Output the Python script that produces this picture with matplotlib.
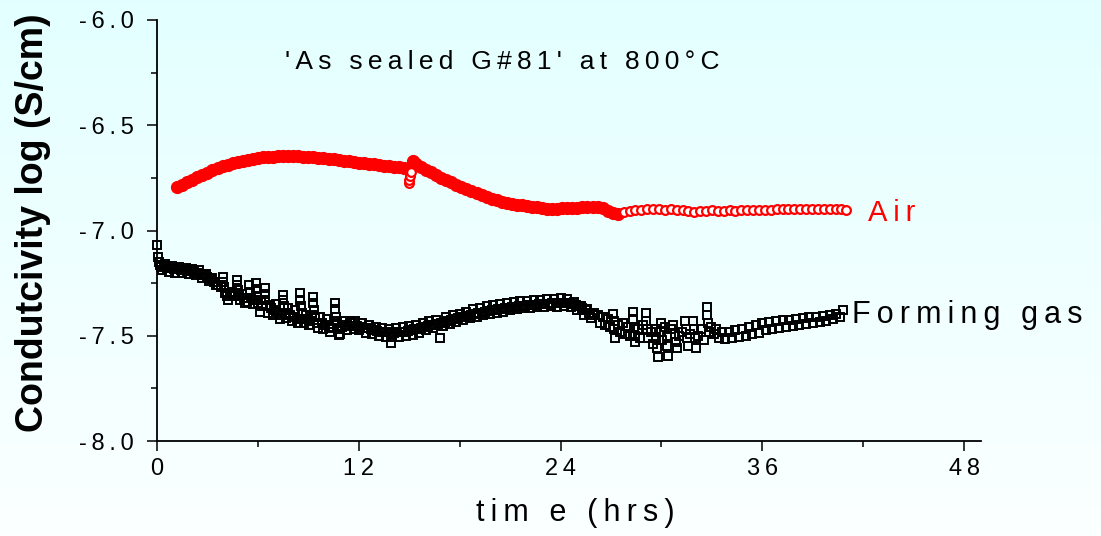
import numpy as np
import matplotlib
matplotlib.use('Agg')
import matplotlib.pyplot as plt
from matplotlib.ticker import MultipleLocator, FuncFormatter

plt.rcParams['font.family'] = ['Liberation Sans', 'DejaVu Sans']

# Air: time (hrs) and log conductivity
air_time = [
    1.2, 1.5, 1.8, 2.1, 2.4, 2.7, 3.0, 3.3, 3.6, 3.9, 4.2, 4.5, 4.8, 5.1, 5.4,
    5.7, 6.0, 6.3, 6.6, 6.9, 7.2, 7.5, 7.8, 8.1, 8.4, 8.7, 9.0, 9.3, 9.6, 9.9,
    10.2, 10.5, 10.8, 11.1, 11.4, 11.7, 12.0, 12.3, 12.6, 12.9, 13.2, 13.5,
    13.8, 14.1, 14.4, 14.7, 14.95, 15.0, 15.0, 15.05, 15.1, 15.2, 15.4, 15.7,
    16.0, 16.3, 16.6, 16.9, 17.2, 17.5, 17.8, 18.1, 18.4, 18.7, 19.0, 19.3,
    19.6, 19.9, 20.2, 20.5, 20.8, 21.1, 21.4, 21.7, 22.0, 22.3, 22.6, 22.9,
    23.2, 23.5, 23.8, 24.1, 24.4, 24.7, 25.0, 25.3, 25.6, 25.9, 26.2, 26.5,
    26.8, 27.1, 27.4,
    27.75, 28.1, 28.45, 28.8, 29.15, 29.5, 29.85, 30.2, 30.55, 30.9, 31.25,
    31.6, 31.95, 32.3, 32.65, 33.0, 33.35, 33.7, 34.05, 34.4, 34.75, 35.1,
    35.45, 35.8, 36.15, 36.5, 36.85, 37.2, 37.55, 37.9, 38.25, 38.6, 38.95,
    39.3, 39.65, 40.0, 40.35, 40.7, 40.95,
]
air_log = [
    -6.795, -6.782, -6.770, -6.758, -6.746, -6.735, -6.726, -6.714, -6.704,
    -6.695, -6.687, -6.680, -6.674, -6.668, -6.663, -6.659, -6.656, -6.653,
    -6.651, -6.649, -6.647, -6.646, -6.646, -6.647, -6.648, -6.649, -6.651,
    -6.653, -6.655, -6.657, -6.660, -6.662, -6.665, -6.668, -6.671, -6.675,
    -6.678, -6.681, -6.683, -6.686, -6.689, -6.692, -6.695, -6.697, -6.700,
    -6.704, -6.708, -6.775, -6.760, -6.740, -6.720, -6.672, -6.683, -6.697,
    -6.711, -6.724, -6.737, -6.749, -6.760, -6.771, -6.782, -6.793, -6.803,
    -6.813, -6.822, -6.831, -6.840, -6.848, -6.857, -6.864, -6.869, -6.873,
    -6.877, -6.880, -6.884, -6.887, -6.890, -6.895, -6.898, -6.900, -6.899,
    -6.895, -6.893, -6.892, -6.891, -6.890, -6.889, -6.887, -6.886, -6.893,
    -6.905, -6.915, -6.920,
    -6.910, -6.905, -6.902, -6.901, -6.900, -6.900, -6.899, -6.901, -6.900,
    -6.902, -6.904, -6.908, -6.910, -6.908, -6.905, -6.904, -6.906, -6.905,
    -6.904, -6.905, -6.904, -6.903, -6.902, -6.903, -6.902, -6.901, -6.900,
    -6.898, -6.897, -6.899, -6.896, -6.897, -6.898, -6.896, -6.897, -6.898,
    -6.899, -6.900, -6.903,
]

# Forming gas: time (hrs) and log conductivity
gas_time = [
    0.0, 0.05, 0.1, 0.15, 0.25, 0.4, 0.6, 0.8, 1.0, 1.2, 1.4, 1.6, 1.8, 2.0,
    2.2, 2.4, 2.6, 2.8, 3.0, 3.2, 3.4, 3.6,
    3.8, 3.95, 3.95, 4.0, 4.05, 4.15, 4.35, 4.55, 4.75, 4.75, 4.8, 4.85, 4.95,
    5.15, 5.35, 5.5, 5.55, 5.6, 5.7, 5.9, 5.9, 5.95, 6.0, 6.1, 6.25, 6.4, 6.4,
    6.45, 6.5, 6.6, 6.8, 7.0, 7.2, 7.35, 7.5, 7.5, 7.55, 7.6, 7.7, 7.9, 8.1,
    8.3, 8.5, 8.5, 8.55, 8.6, 8.65, 8.75, 8.95, 9.1, 9.3, 9.3, 9.35, 9.4, 9.5,
    9.6, 9.8, 10.0, 10.2, 10.4, 10.6, 10.6, 10.65, 10.7, 10.75, 10.8, 11.0,
    11.2, 11.4, 11.6,
    11.8, 12.0, 12.2, 12.4, 12.6, 12.8, 13.0, 13.2, 13.4, 13.6, 13.8, 13.9,
    14.0, 14.2, 14.4, 14.6, 14.8, 15.0, 15.2, 15.4, 15.6, 15.8, 16.0, 16.2,
    16.4, 16.6, 16.8, 17.0, 17.2, 17.4, 17.6, 17.8, 18.0, 18.2, 18.4, 18.6,
    18.8, 19.0, 19.2, 19.4, 19.6, 19.8, 20.0, 20.2, 20.4, 20.6, 20.8, 21.0,
    21.2, 21.4, 21.6, 21.8, 22.0, 22.2, 22.4, 22.6, 22.8, 23.0, 23.2, 23.4,
    23.6, 23.8, 24.0, 24.2, 24.4, 24.6, 24.8, 25.0, 25.2, 25.4, 25.6, 25.8,
    26.0,
    26.2, 26.35, 26.5, 26.65, 26.8, 26.95, 27.1, 27.15, 27.2, 27.25, 27.4,
    27.55, 27.7, 27.85, 28.0, 28.15, 28.3, 28.3, 28.35, 28.4, 28.45, 28.6,
    28.75, 28.9, 29.05, 29.1, 29.15, 29.2, 29.35, 29.5, 29.7, 29.7, 29.75,
    29.8, 29.95, 30.0, 30.05, 30.2, 30.3, 30.35, 30.4, 30.55, 30.7, 30.8,
    30.85, 30.9, 31.05, 31.2, 31.4, 31.45, 31.5, 31.55, 31.7, 31.9, 31.95,
    32.0, 32.05, 32.2, 32.35, 32.5, 32.7, 32.7, 32.75, 32.8, 32.95, 33.1,
    33.25,
    33.4, 33.6, 33.8, 34.0, 34.2, 34.4, 34.6, 34.8, 35.0, 35.2, 35.4, 35.6,
    35.8, 36.0, 36.2, 36.4, 36.6, 36.8, 37.0, 37.2, 37.4, 37.6, 37.8, 38.0,
    38.2, 38.4, 38.6, 38.8, 39.0, 39.2, 39.4, 39.6, 39.8, 40.0, 40.2, 40.4,
    40.6, 40.8,
]
gas_log = [
    -7.069, -7.125, -7.148, -7.165, -7.175, -7.170, -7.180, -7.178, -7.185,
    -7.182, -7.188, -7.186, -7.192, -7.190, -7.196, -7.200, -7.205, -7.212,
    -7.220, -7.232, -7.245, -7.258,
    -7.27, -7.219, -7.245, -7.270, -7.295, -7.31, -7.30, -7.31, -7.235, -7.26,
    -7.285, -7.31, -7.33, -7.32, -7.34, -7.26, -7.29, -7.32, -7.35, -7.25,
    -7.28, -7.31, -7.345, -7.385, -7.36, -7.272, -7.30, -7.33, -7.36, -7.39,
    -7.37, -7.38, -7.39, -7.40, -7.306, -7.33, -7.36, -7.39, -7.416, -7.40,
    -7.41, -7.42, -7.297, -7.33, -7.36, -7.39, -7.42, -7.44, -7.42, -7.43,
    -7.314, -7.345, -7.38, -7.41, -7.44, -7.463, -7.44, -7.45, -7.46, -7.465,
    -7.345, -7.375, -7.41, -7.44, -7.47, -7.496, -7.46, -7.45, -7.455, -7.44,
    -7.43, -7.475, -7.44, -7.485, -7.45, -7.49, -7.46, -7.50, -7.465, -7.505,
    -7.47, -7.535, -7.505, -7.465, -7.505, -7.46, -7.50, -7.455, -7.495,
    -7.45, -7.485, -7.44, -7.475, -7.43, -7.465, -7.425, -7.51, -7.455, -7.41,
    -7.445, -7.40, -7.435, -7.395, -7.425, -7.385, -7.415, -7.375, -7.41,
    -7.37, -7.40, -7.36, -7.395, -7.355, -7.39, -7.35, -7.385, -7.345, -7.38,
    -7.34, -7.375, -7.335, -7.37, -7.335, -7.37, -7.33, -7.365, -7.33, -7.365,
    -7.325, -7.36, -7.325, -7.365, -7.32, -7.36, -7.325, -7.365, -7.34, -7.38,
    -7.36, -7.40, -7.375, -7.415, -7.39,
    -7.40, -7.44, -7.41, -7.45, -7.42, -7.46, -7.395, -7.43, -7.47, -7.51,
    -7.45, -7.48, -7.44, -7.49, -7.46, -7.50, -7.385, -7.42, -7.46, -7.50,
    -7.53, -7.47, -7.51, -7.45, -7.39, -7.43, -7.47, -7.51, -7.48, -7.54,
    -7.47, -7.51, -7.56, -7.60, -7.44, -7.48, -7.52, -7.46, -7.50, -7.55,
    -7.595, -7.47, -7.45, -7.49, -7.53, -7.56, -7.50, -7.48, -7.43, -7.47,
    -7.51, -7.55, -7.49, -7.43, -7.47, -7.51, -7.56, -7.50, -7.47, -7.52,
    -7.362, -7.40, -7.44, -7.48, -7.46, -7.49, -7.47,
    -7.51, -7.48, -7.515, -7.48, -7.51, -7.475, -7.505, -7.47, -7.50, -7.46,
    -7.49, -7.45, -7.485, -7.44, -7.475, -7.435, -7.47, -7.43, -7.465, -7.425,
    -7.46, -7.425, -7.455, -7.42, -7.45, -7.415, -7.445, -7.41, -7.44, -7.41,
    -7.435, -7.405, -7.43, -7.40, -7.42, -7.395, -7.41, -7.38,
]

# Forming gas: in-between readings of the densely sampled stretches
gas_time_mid = [
    0.3, 0.5, 0.7, 0.9, 1.1, 1.3, 1.5, 1.7, 1.9, 2.1, 2.3, 2.5, 2.7, 2.9, 3.1,
    3.3, 3.5,
    4.25, 4.45, 5.05, 5.25, 5.8, 6.2, 6.7, 6.9, 7.1, 7.3, 7.8, 8.0, 8.2, 8.4,
    8.85, 9.05, 9.2, 9.7, 9.9, 10.1, 10.3, 10.5, 10.9, 11.1, 11.3, 11.5, 11.7,
    11.9, 12.1, 12.3, 12.5, 12.7, 12.9, 13.1, 13.3, 13.5, 13.7, 13.9, 14.1,
    14.3, 14.5, 14.7, 14.9, 15.1, 15.3, 15.5, 15.7, 15.9, 16.1, 16.3, 16.5,
    16.7, 16.9, 17.1, 17.3, 17.5, 17.7, 17.9, 18.1, 18.3, 18.5, 18.7, 18.9,
    19.1, 19.3, 19.5, 19.7, 19.9, 20.1, 20.3, 20.5, 20.7, 20.9, 21.1, 21.3,
    21.5, 21.7, 21.9, 22.1, 22.3, 22.5, 22.7, 22.9, 23.1, 23.3, 23.5, 23.7,
    23.9, 24.1, 24.3, 24.5, 24.7, 24.9, 25.1, 25.3, 25.5, 25.7, 25.9,
]
gas_log_mid = [
    -7.19, -7.16, -7.195, -7.17, -7.20, -7.175, -7.20, -7.18, -7.205, -7.185,
    -7.21, -7.19, -7.225, -7.205, -7.24, -7.225, -7.26,
    -7.33, -7.29, -7.30, -7.345, -7.33, -7.33, -7.355, -7.40, -7.35, -7.42,
    -7.37, -7.43, -7.38, -7.44, -7.40, -7.45, -7.40, -7.41, -7.47, -7.42,
    -7.48, -7.43, -7.49, -7.43, -7.475, -7.43, -7.47,
    -7.452, -7.457, -7.461, -7.465, -7.469, -7.473, -7.477, -7.480, -7.483,
    -7.484, -7.485, -7.485, -7.484, -7.483, -7.480, -7.477, -7.474, -7.470,
    -7.468, -7.462, -7.460, -7.456, -7.451, -7.447, -7.443, -7.438, -7.434,
    -7.430, -7.426, -7.422, -7.417, -7.413, -7.409, -7.405, -7.401, -7.398,
    -7.394, -7.391, -7.387, -7.384, -7.380, -7.377, -7.375, -7.372, -7.369,
    -7.367, -7.365, -7.363, -7.361, -7.359, -7.357, -7.355, -7.354, -7.352,
    -7.351, -7.350, -7.348, -7.347, -7.346, -7.345, -7.344, -7.344, -7.344,
    -7.345, -7.350, -7.353, -7.360, -7.370, -7.380, -7.392, -7.403,
]

x_ticks = [0, 12, 24, 36, 48]
y_ticks = [-8.0, -7.5, -7.0, -6.5, -6.0]


def spaced(s, gap='\u2009'):
    # Origin-style wide letter spacing
    return gap.join(s)


fig = plt.figure(figsize=(11.01, 5.36), dpi=100)

# light cyan gradient background
bg = fig.add_axes([0, 0, 1, 1], zorder=-10)
grad = np.linspace(0, 1, 256).reshape(-1, 1)
top = np.array([0.89, 1.0, 1.0])
bottom = np.array([0.985, 1.0, 1.0])
bg.imshow(top + grad[..., None] * (bottom - top), aspect='auto', extent=[0, 1, 0, 1])
bg.axis('off')

ax = fig.add_axes([157 / 1101, 1 - 441 / 536, 824 / 1101, 421 / 536])
ax.patch.set_alpha(0)

t_air = np.array(air_time)
v_air = np.array(air_log)
# points packed so tightly in the original that they merge into a solid band
sparse = (t_air > 27.5) | ((t_air >= 15.0) & (t_air <= 15.1))

t_gas = np.concatenate([gas_time, gas_time_mid])
v_gas = np.concatenate([gas_log, gas_log_mid])
order = np.argsort(t_gas, kind='stable')

ax.plot(t_gas[order], v_gas[order], ls='none', marker='s', ms=6.2,
        mfc='none', mec='black', mew=1.4, clip_on=False)
ax.plot(t_air[~sparse], v_air[~sparse], ls='none', marker='o', ms=8.5,
        mfc='#ff0000', mec='#ff0000', mew=1.0, clip_on=False)
ax.plot(t_air[sparse], v_air[sparse], ls='none', marker='o', ms=6.3,
        mfc='white', mec='#ff0000', mew=1.6, clip_on=False)

ax.set_xlim(0, 49)
ax.set_ylim(-8.0, -6.0)

for side in ['top', 'right']:
    ax.spines[side].set_visible(False)
for side in ['left', 'bottom']:
    ax.spines[side].set_linewidth(1.3)

ax.set_xticks(x_ticks)
ax.set_yticks(y_ticks)
ax.xaxis.set_minor_locator(MultipleLocator(6))
ax.yaxis.set_minor_locator(MultipleLocator(0.25))
ax.tick_params(which='major', direction='out', length=7.5, width=1.1, labelsize=17)
ax.tick_params(which='minor', direction='out', length=4, width=1.1)
ax.tick_params(axis='y', pad=9)
ax.tick_params(axis='x', pad=5)
ax.xaxis.set_major_formatter(FuncFormatter(lambda v, p: spaced(f'{v:.0f}')))
ax.yaxis.set_major_formatter(FuncFormatter(lambda v, p: spaced(f'{v:.1f}')))

ax.set_xlabel(spaced('tim e (hrs)'), fontsize=22, labelpad=13)
ax.xaxis.set_label_coords(0.508, -0.135)
fig.text(0.030, 1 - 223 / 536, 'Condutcivity log (S/cm)', rotation=90,
         fontsize=27, fontweight='bold', ha='center', va='center')

ax.text(7.6, -6.2, spaced("'As sealed G#81' at 800°C"), fontsize=19,
        ha='left', va='center')
ax.text(42.3, -6.915, spaced('Air'), color='#ff0000', fontsize=21,
        ha='left', va='center', clip_on=False)
ax.text(41.3, -7.40, spaced('Forming gas'), color='black', fontsize=22,
        ha='left', va='center', clip_on=False)

fig.savefig('out.png', dpi=100)
